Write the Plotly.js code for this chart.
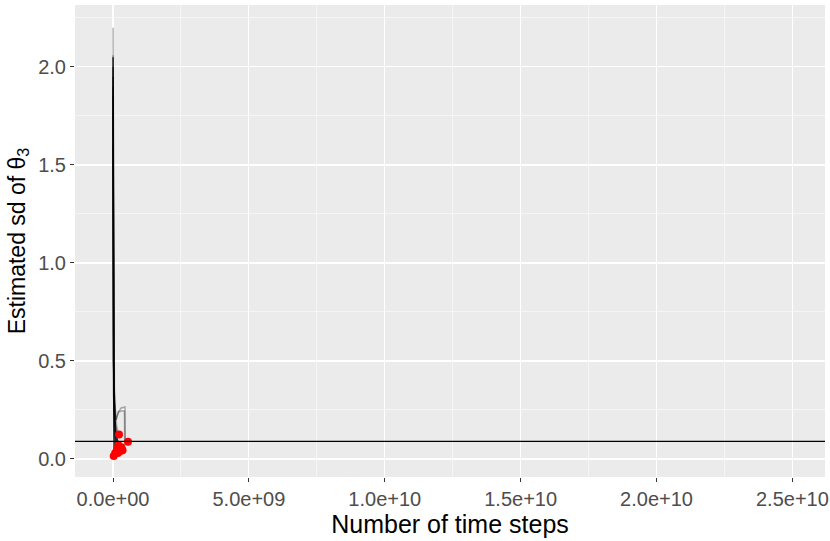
<!DOCTYPE html>
<html>
<head>
<meta charset="utf-8">
<script src="https://cdn.plot.ly/plotly-3.0.1.min.js"></script>
<style>
  body { margin: 0; background: #fff; }
  #plot { width: 830px; height: 541px; }
</style>
</head>
<body>
<div id="plot"></div>
<script>
// estimation trajectories (time steps, estimated sd)
const run1X = [1e6, 4e6, 8e6, 1.5e7, 2.5e7, 4e7, 6e7, 9e7, 1.3e8, 1.8e8, 2.2e8];
const run1Y = [2.2, 1.9, 1.4, 0.9, 0.6, 0.4, 0.3, 0.22, 0.17, 0.14, 0.125];
const run2X = [1e6, 5e6, 1e7, 2e7, 3e7, 5e7, 8e7, 1.2e8, 2e8, 3e8, 4.4e8, 4.5e8, 5.5e8];
const run2Y = [2.06, 1.8, 1.3, 0.8, 0.5, 0.35, 0.22, 0.2, 0.24, 0.26, 0.265, 0.1, 0.088];
const run3X = [1e6, 3e6, 6e6, 1e7, 2e7, 4e7, 8e7, 1.5e8, 2.5e8];
const run3Y = [1.77, 1.5, 1.0, 0.7, 0.45, 0.3, 0.18, 0.1, 0.04];
const run4X = [1e6, 3e6, 6e6, 1.2e7, 2.5e7, 5e7, 1e8, 1.5e8, 2e8, 3e8, 4.2e8, 4.3e8, 3.5e8];
const run4Y = [2.05, 1.7, 1.2, 0.8, 0.5, 0.3, 0.2, 0.22, 0.24, 0.245, 0.245, 0.06, 0.045];
const run5X = [1e6, 4e6, 1e7, 2e7, 4e7, 8e7, 1.5e8];
const run5Y = [2.0, 1.5, 0.9, 0.5, 0.3, 0.12, 0.05];
const run6X = [1e6, 5e6, 1e7, 2e7, 4e7, 7e7, 1.2e8, 2e8, 3e8];
const run6Y = [1.9, 1.3, 0.8, 0.5, 0.36, 0.2, 0.12, 0.08, 0.06];
const run7X = [1e6, 3e6, 8e6, 1.5e7, 3e7, 6e7, 1e8, 1.8e8];
const run7Y = [2.05, 1.6, 1.0, 0.6, 0.3, 0.15, 0.08, 0.03];
const run8X = [1e6, 4e6, 1e7, 2e7, 4e7, 8e7];
const run8Y = [1.95, 1.4, 0.7, 0.35, 0.12, 0.03];
const run9X = [1e6, 5e6, 1.2e7, 2.5e7, 5e7, 1e8, 1.6e8, 2e8];
const run9Y = [1.85, 1.2, 0.7, 0.4, 0.25, 0.12, 0.08, 0.07];
const run10X = [1e6, 3e6, 6e6, 1.2e7, 2.5e7];
const run10Y = [1.6, 1.0, 0.5, 0.2, 0.015];

const runsX = [run1X, run2X, run3X, run4X, run5X, run6X, run7X, run8X, run9X, run10X];
const runsY = [run1Y, run2Y, run3Y, run4Y, run5Y, run6Y, run7Y, run8Y, run9Y, run10Y];
const runAlpha = [0.3, 0.3, 0.35, 0.3, 0.6, 0.6, 0.6, 0.6, 0.5, 0.6];

// final estimates (red points)
const finalX = runsX.map(a => a[a.length - 1]);
const finalY = runsY.map(a => a[a.length - 1]);

const trueSd = 0.09;

const xTickVals = [0, 5e9, 1e10, 1.5e10, 2e10, 2.5e10];
const xTickText = ['0.0e+00', '5.0e+09', '1.0e+10', '1.5e+10', '2.0e+10', '2.5e+10'];
const yTickVals = [0, 0.5, 1, 1.5, 2];
const yTickText = ['0.0', '0.5', '1.0', '1.5', '2.0'];

const traces = runsX.map((xs, i) => ({
	x: xs,
	y: runsY[i],
	mode: 'lines',
	line: {color: `rgba(0,0,0,${runAlpha[i]})`, width: 1.5},
	hoverinfo: 'skip'
}));

traces.push({
	x: finalX,
	y: finalY,
	mode: 'markers',
	marker: {color: 'red', size: 8},
	hoverinfo: 'skip'
});

const fontFam = 'Liberation Sans, Arial, sans-serif';

const axisCommon = {
	showline: false,
	zeroline: false,
	gridcolor: '#FFFFFF',
	gridwidth: 1.1,
	ticks: 'outside',
	ticklen: 4,
	tickcolor: '#333333',
	tickwidth: 1,
	ticklabeloverflow: 'allow',
	tickfont: {family: fontFam, size: 20, color: '#4D4D4D'}
};

Plotly.newPlot(
	'plot',
	traces,
	{
		width: 830,
		height: 541,
		showlegend: false,
		paper_bgcolor: '#FFFFFF',
		plot_bgcolor: '#EBEBEB',
		margin: {l: 75, r: 5, t: 5, b: 64},
		xaxis: Object.assign({}, axisCommon, {
			range: [-1.4e9, 2.62e10],
			tickmode: 'array',
			tickvals: xTickVals,
			ticktext: xTickText,
			minor: {showgrid: true, gridcolor: '#FFFFFF', gridwidth: 0.5, tickvals: [2.5e9, 7.5e9, 1.25e10, 1.75e10, 2.25e10]},
			title: {text: 'Number of time steps', font: {family: fontFam, size: 25, color: '#000'}, standoff: 4}
		}),
		yaxis: Object.assign({}, axisCommon, {
			range: [-0.092, 2.316],
			tickmode: 'array',
			tickvals: yTickVals,
			ticktext: yTickText,
			minor: {showgrid: true, gridcolor: '#FFFFFF', gridwidth: 0.5, tickvals: [0.25, 0.75, 1.25, 1.75, 2.25]},
			title: {text: 'Estimated sd of θ<sub>3</sub>', font: {family: fontFam, size: 23, color: '#000'}, standoff: 6}
		}),
		shapes: [{
			type: 'line',
			xref: 'paper', x0: 0, x1: 1,
			yref: 'y', y0: trueSd, y1: trueSd,
			line: {color: '#000', width: 1.3}
		}]
	},
	{displayModeBar: false, staticPlot: true}
);
</script>
</body>
</html>
